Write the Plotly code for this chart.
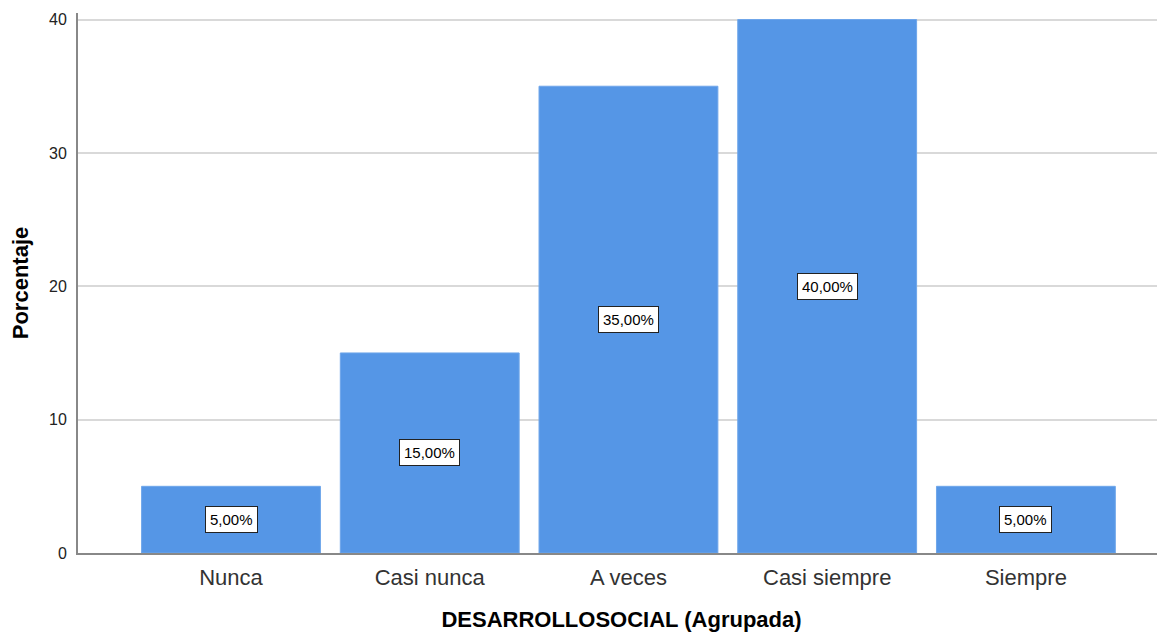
import plotly.graph_objects as go

categorias = ["Nunca", "Casi nunca", "A veces", "Casi siempre", "Siempre"]
porcentajes = [5, 15, 35, 40, 5]
etiquetas = ["5,00%", "15,00%", "35,00%", "40,00%", "5,00%"]
ticks_y = [0, 10, 20, 30, 40]

fuente = "Liberation Sans, Arial, sans-serif"

fig = go.Figure()
fig.add_trace(go.Bar(
    x=categorias,
    y=porcentajes,
    marker=dict(color="#5596E6", line=dict(color="#6FA6EA", width=1)),
    hoverinfo="x+y",
))

# cajas de etiqueta en la mitad de cada barra
for cat, val, txt in zip(categorias, porcentajes, etiquetas):
    fig.add_annotation(
        x=cat, y=val / 2, text=txt, showarrow=False,
        font=dict(family=fuente, size=15, color="#000000"),
        bgcolor="#FFFFFF", bordercolor="#222222", borderwidth=1, borderpad=4,
    )

fig.update_layout(
    width=1157, height=624,
    margin=dict(l=70, r=0, t=5, b=79),
    paper_bgcolor="white", plot_bgcolor="white",
    bargap=0.1,
    showlegend=False,
    font=dict(family=fuente, color="#222222"),
)

fig.update_xaxes(
    range=[-0.77, 4.70],
    showline=True, linecolor="#888888", linewidth=2,
    ticks="outside", ticklen=4, tickcolor="rgba(0,0,0,0)",
    tickfont=dict(family=fuente, size=22, color="#333333"),
    title=dict(text="<b>DESARROLLOSOCIAL (Agrupada)</b>",
               font=dict(family=fuente, size=22, color="#000000"), standoff=22),
    showgrid=False,
)

fig.update_yaxes(
    range=[0, 40.49],
    tickvals=ticks_y,
    showline=True, linecolor="#888888", linewidth=2,
    showgrid=True, gridcolor="#D9D9D9", gridwidth=2,
    zeroline=False,
    ticks="outside", ticklen=6, tickcolor="rgba(0,0,0,0)",
    tickfont=dict(family=fuente, size=16, color="#222222"),
    title=dict(text="<b>Porcentaje</b>",
               font=dict(family=fuente, size=22, color="#000000"), standoff=22),
)

fig.write_html("out.html")
